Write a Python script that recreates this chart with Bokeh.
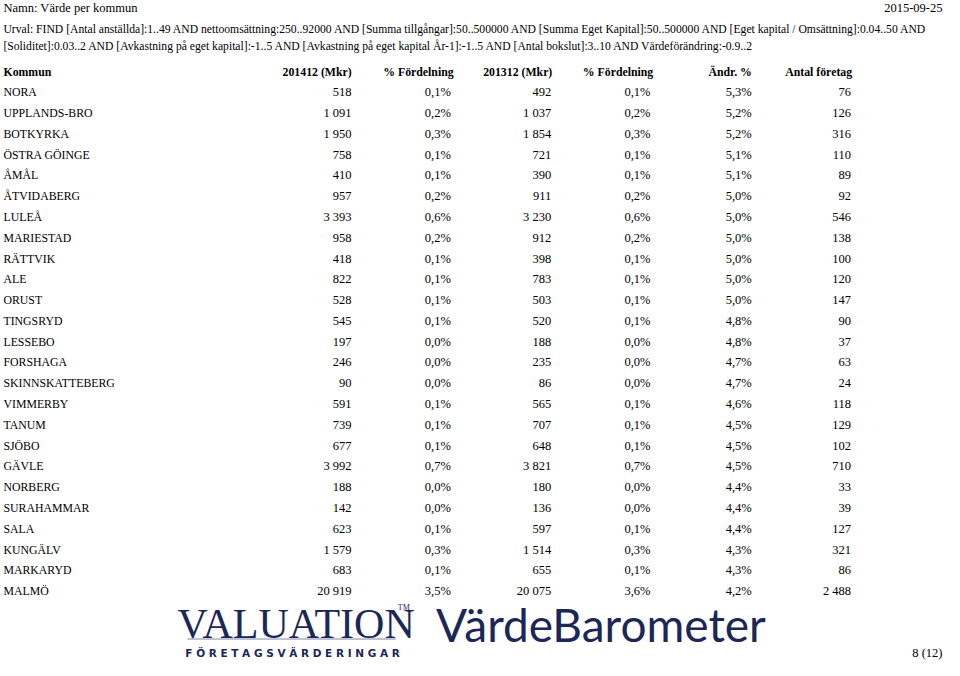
from bokeh.plotting import figure
from bokeh.models import Range1d, ColumnDataSource
from bokeh.core.properties import value
from bokeh.embed import file_html
from bokeh.resources import INLINE

# ---------------- data ----------------
kommun = ["NORA", "UPPLANDS-BRO", "BOTKYRKA", "ÖSTRA GÖINGE", "ÅMÅL", "ÅTVIDABERG",
          "LULEÅ", "MARIESTAD", "RÄTTVIK", "ALE", "ORUST", "TINGSRYD", "LESSEBO",
          "FORSHAGA", "SKINNSKATTEBERG", "VIMMERBY", "TANUM", "SJÖBO", "GÄVLE",
          "NORBERG", "SURAHAMMAR", "SALA", "KUNGÄLV", "MARKARYD", "MALMÖ"]
v201412 = ["518", "1 091", "1 950", "758", "410", "957", "3 393", "958", "418", "822",
           "528", "545", "197", "246", "90", "591", "739", "677", "3 992", "188", "142",
           "623", "1 579", "683", "20 919"]
f201412 = ["0,1%", "0,2%", "0,3%", "0,1%", "0,1%", "0,2%", "0,6%", "0,2%", "0,1%", "0,1%",
           "0,1%", "0,1%", "0,0%", "0,0%", "0,0%", "0,1%", "0,1%", "0,1%", "0,7%", "0,0%",
           "0,0%", "0,1%", "0,3%", "0,1%", "3,5%"]
v201312 = ["492", "1 037", "1 854", "721", "390", "911", "3 230", "912", "398", "783",
           "503", "520", "188", "235", "86", "565", "707", "648", "3 821", "180", "136",
           "597", "1 514", "655", "20 075"]
f201312 = ["0,1%", "0,2%", "0,3%", "0,1%", "0,1%", "0,2%", "0,6%", "0,2%", "0,1%", "0,1%",
           "0,1%", "0,1%", "0,0%", "0,0%", "0,0%", "0,1%", "0,1%", "0,1%", "0,7%", "0,0%",
           "0,0%", "0,1%", "0,3%", "0,1%", "3,6%"]
andr = ["5,3%", "5,2%", "5,2%", "5,1%", "5,1%", "5,0%", "5,0%", "5,0%", "5,0%", "5,0%",
        "5,0%", "4,8%", "4,8%", "4,7%", "4,7%", "4,6%", "4,5%", "4,5%", "4,5%", "4,4%",
        "4,4%", "4,4%", "4,3%", "4,3%", "4,2%"]
antal = ["76", "126", "316", "110", "89", "92", "546", "138", "100", "120", "147", "90",
         "37", "63", "24", "118", "129", "102", "710", "33", "39", "127", "321", "86", "2 488"]
headers = ["Kommun", "201412 (Mkr)", "% Fördelning", "201312 (Mkr)", "% Fördelning",
           "Ändr. %", "Antal företag"]

title = "Namn: Värde per kommun"
date = "2015-09-25"
urval1 = ("Urval: FIND [Antal anställda]:1..49 AND nettoomsättning:250..92000 AND "
          "[Summa tillgångar]:50..500000 AND [Summa Eget Kapital]:50..500000 AND "
          "[Eget kapital / Omsättning]:0.04..50 AND")
urval2 = ("[Soliditet]:0.03..2 AND [Avkastning på eget kapital]:-1..5 AND "
          "[Avkastning på eget kapital År-1]:-1..5 AND [Antal bokslut]:3..10 AND "
          "Värdeförändring:-0.9..2")
page = "8 (12)"

# ---------------- layout ----------------
W, H = 960, 676
SERIF = value("Liberation Serif")
NAVY = "#1c2657"
ROW0, ROWH = 94, 21.29
col_x = [3, 357, 458, 560, 661, 764, 865]          # column anchors
col_align = ["left", "right", "right", "right", "right", "right", "right"]
head_x = [3, 322, 425, 526, 628, 742, 832]
head_align = ["left", "center", "center", "center", "center", "center", "center"]

p = figure(width=944, height=660, x_range=Range1d(0, W), y_range=Range1d(H, 0),
           output_backend="svg", toolbar_location=None, min_border=0)
p.axis.visible = False
p.grid.visible = False
p.outline_line_color = None
p.background_fill_color = "white"
p.border_fill_color = "white"

def txt(x, y, s, size="13px", align="left", style="normal", color="black", font=SERIF):
    p.text(x=[x], y=[y], text=[s], text_font=font, text_font_size=size,
           text_align=align, text_baseline="middle", text_font_style=style,
           text_color=color)

# header texts
txt(3, 8, title, size="12.5px")
txt(958, 8, date, size="12.5px", align="right")
txt(3, 30, urval1, size="11.65px")
txt(3, 47, urval2, size="11.65px")

# column headers
for hx, ha, h in zip(head_x, head_align, headers):
    txt(hx, 73, h, size="11.8px", align=ha, style="bold")

# table body
rows_y = [ROW0 + i * ROWH for i in range(len(kommun))]
cols = [kommun, v201412, f201412, v201312, f201312, andr, antal]
sizes = ["11.8px"] + ["12.5px"] * 6
for cx, ca, col, fs in zip(col_x, col_align, cols, sizes):
    src = ColumnDataSource(dict(x=[cx] * len(col), y=rows_y, t=col))
    p.text(x="x", y="y", text="t", source=src, text_font=SERIF,
           text_font_size=fs, text_align=ca, text_baseline="middle",
           text_color="black")

# logos (as text)
txt(180, 639, "VALUATION", size="42px", color=NAVY)
txt(404, 622, "TM", size="8px", color=NAVY)
p.segment(x0=[190], y0=[654], x1=[402], y1=[654], line_color="#8088a8", line_width=1)
txt(297, 668, "F Ö R E T A G S V Ä R D E R I N G A R", size="10.5px", align="center",
    style="bold", color=NAVY, font=value("DejaVu Sans"))
txt(443, 639, "VärdeBarometer", size="46px", color=NAVY, font=value("Lato"))

txt(958, 668, page, size="12.5px", align="right")

open("out.html", "w").write(file_html(p, INLINE))
